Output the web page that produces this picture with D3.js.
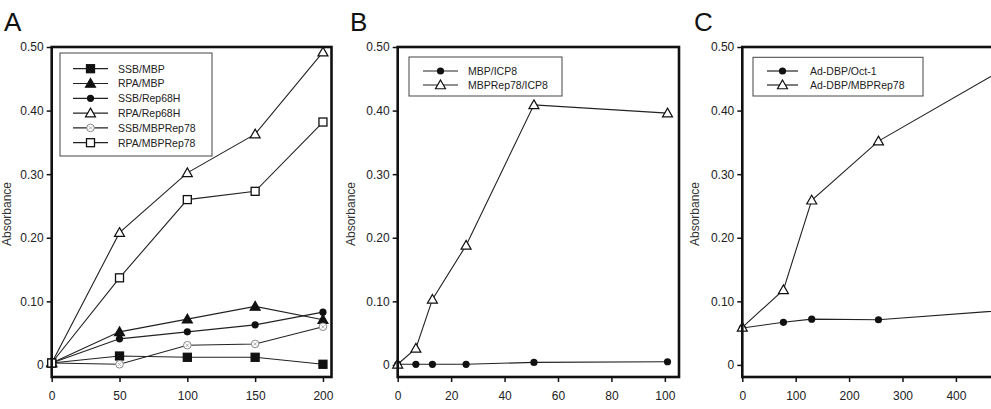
<!DOCTYPE html>
<html>
<head>
<meta charset="utf-8">
<script src="https://cdn.jsdelivr.net/npm/d3@7"></script>
<style>
  body { margin: 0; background: #fff; }
  svg { display: block; font-family: "Liberation Sans", Arial, sans-serif; }
  .tick text { font-size: 12px; fill: #222; }
  .tick line { stroke: #111; stroke-width: 1.5; }
  .legendText { font-size: 10.5px; fill: #222; }
</style>
</head>
<body>
<div id="chart"></div>
<script>
// y axis shared by all three panels
var yTicks = [0, 0.1, 0.2, 0.3, 0.4, 0.5];
var yTickLabels = ["0", "0.10", "0.20", "0.30", "0.40", "0.50"];

// panel A
var aX = [0, 50, 100, 150, 200];
var aXTicks = [0, 50, 100, 150, 200];
var aSsbMbp = [0.003, 0.014, 0.012, 0.012, 0.001];
var aRpaMbp = [0.003, 0.052, 0.072, 0.092, 0.071];
var aSsbRep68H = [0.003, 0.041, 0.052, 0.063, 0.083];
var aRpaRep68H = [0.003, 0.208, 0.302, 0.363, 0.492];
var aSsbMbpRep78 = [0.003, 0.001, 0.031, 0.033, 0.060];
var aRpaMbpRep78 = [0.003, 0.137, 0.260, 0.273, 0.382];

// panel B
var bX = [0, 6.8, 13, 25.6, 51, 101];
var bXTicks = [0, 20, 40, 60, 80, 100];
var bMbpIcp8 = [0.001, 0.001, 0.001, 0.001, 0.004, 0.005];
var bMbpRep78Icp8 = [0.001, 0.026, 0.103, 0.188, 0.409, 0.396];

// panel C
var cX = [0, 77, 130, 255, 510];
var cXTicks = [0, 100, 200, 300, 400];
var cOct1 = [0.058, 0.067, 0.072, 0.071, 0.087];
var cMbpRep78 = [0.059, 0.118, 0.259, 0.352, 0.475];

var width = 991, height = 409;
var svg = d3.select("#chart").append("svg")
    .attr("width", width)
    .attr("height", height);

var y = d3.scaleLinear().domain([-0.019, 0.5]).range([377, 47]);

var panels = [
  {letter: "A", left: 51.7, right: 331.5, xMax: 206.3, xTicks: aXTicks, letterX: 4, titleX: 11,
   legend: {x: 60, y: 53, w: 152, h: 103, rowY: 68.7, rowGap: 14.8, lineX0: 73, lineX1: 108, textX: 118},
   series: [
     {name: "SSB/MBP", x: aX, v: aSsbMbp, marker: "fsquare"},
     {name: "RPA/MBP", x: aX, v: aRpaMbp, marker: "ftri"},
     {name: "SSB/Rep68H", x: aX, v: aSsbRep68H, marker: "fcircle"},
     {name: "RPA/Rep68H", x: aX, v: aRpaRep68H, marker: "otri"},
     {name: "SSB/MBPRep78", x: aX, v: aSsbMbpRep78, marker: "xcircle"},
     {name: "RPA/MBPRep78", x: aX, v: aRpaMbpRep78, marker: "osquare"}
   ]},
  {letter: "B", left: 397.7, right: 679, xMax: 105.3, xTicks: bXTicks, letterX: 350, titleX: 355,
   legend: {x: 409, y: 57, w: 153, h: 39, rowY: 71, rowGap: 14, lineX0: 423, lineX1: 458, textX: 468},
   series: [
     {name: "MBP/ICP8", x: bX, v: bMbpIcp8, marker: "fcircle"},
     {name: "MBPRep78/ICP8", x: bX, v: bMbpRep78Icp8, marker: "otri"}
   ]},
  {letter: "C", left: 742.3, right: 1009.3, xMax: 500, xTicks: cXTicks, letterX: 694, titleX: 699,
   legend: {x: 753, y: 57.3, w: 170, h: 38.7, rowY: 71, rowGap: 14, lineX0: 767, lineX1: 798, textX: 810},
   series: [
     {name: "Ad-DBP/Oct-1", x: cX, v: cOct1, marker: "fcircle"},
     {name: "Ad-DBP/MBPRep78", x: cX, v: cMbpRep78, marker: "otri"}
   ]}
];

function drawMarker(g, kind, cx, cy) {
  if (kind == "fsquare" || kind == "osquare") {
    g.append("rect")
      .attr("x", cx - 4).attr("y", cy - 4)
      .attr("width", 8).attr("height", 8)
      .attr("fill", kind == "fsquare" ? "#111" : "#fff")
      .attr("stroke", "#111").attr("stroke-width", 1.3);
  }
  else if (kind == "ftri" || kind == "otri") {
    var s = 5;
    g.append("path")
      .attr("d", "M" + cx + "," + (cy - s) + "L" + (cx + s) + "," + (cy + s * 0.75) + "L" + (cx - s) + "," + (cy + s * 0.75) + "Z")
      .attr("fill", kind == "ftri" ? "#111" : "#fff")
      .attr("stroke", "#111").attr("stroke-width", 1.2);
  }
  else if (kind == "fcircle") {
    g.append("circle").attr("cx", cx).attr("cy", cy).attr("r", 3.6).attr("fill", "#111");
  }
  else if (kind == "xcircle") {
    g.append("circle").attr("cx", cx).attr("cy", cy).attr("r", 3.8)
      .attr("fill", "#fff").attr("stroke", "#888").attr("stroke-width", 1);
    g.append("path")
      .attr("d", "M" + (cx - 1.6) + "," + (cy - 1.6) + "L" + (cx + 1.6) + "," + (cy + 1.6) +
                 "M" + (cx + 1.6) + "," + (cy - 1.6) + "L" + (cx - 1.6) + "," + (cy + 1.6))
      .attr("stroke", "#999").attr("stroke-width", 0.8);
  }
}

panels.forEach(function(p) {
  var x = d3.scaleLinear().domain([0, p.xMax]).range([p.left, p.right]);
  var g = svg.append("g");

  // panel letter
  g.append("text")
    .attr("x", p.letterX).attr("y", 31)
    .attr("font-size", 26)
    .attr("fill", "#111")
    .text(p.letter);

  // y axis title
  g.append("text")
    .attr("transform", "translate(" + p.titleX + ",214) rotate(-90)")
    .attr("text-anchor", "middle")
    .attr("font-size", 12)
    .attr("fill", "#333")
    .text("Absorbance");

  // axes
  var yAxis = g.append("g")
    .attr("transform", "translate(" + p.left + ",0)")
    .call(d3.axisLeft(y).tickValues(yTicks).tickSize(5).tickPadding(3)
      .tickFormat(function(d, i) { return yTickLabels[i]; }));
  yAxis.select(".domain").remove();

  var xAxis = g.append("g")
    .attr("transform", "translate(0,377)")
    .call(d3.axisBottom(x).tickValues(p.xTicks).tickSize(5).tickPadding(9));
  xAxis.select(".domain").remove();

  // lines and markers
  var line = d3.line()
    .x(function(d) { return x(d[0]); })
    .y(function(d) { return y(d[1]); });

  p.series.forEach(function(s) {
    var pts = s.x.map(function(xv, i) { return [xv, s.v[i]]; });
    g.append("path")
      .datum(pts)
      .attr("d", line)
      .attr("fill", "none")
      .attr("stroke", "#222")
      .attr("stroke-width", 1.1);
  });
  p.series.forEach(function(s) {
    s.x.forEach(function(xv, i) {
      drawMarker(g, s.marker, x(xv), y(s.v[i]));
    });
  });

  // frame
  g.append("rect")
    .attr("x", p.left).attr("y", 47)
    .attr("width", p.right - p.left).attr("height", 377 - 47)
    .attr("fill", "none")
    .attr("stroke", "#111")
    .attr("stroke-width", 2.6);

  // legend
  var L = p.legend;
  var lg = g.append("g");
  lg.append("rect")
    .attr("x", L.x).attr("y", L.y)
    .attr("width", L.w).attr("height", L.h)
    .attr("fill", "#fff")
    .attr("stroke", "#444")
    .attr("stroke-width", 1);
  p.series.forEach(function(s, i) {
    var ry = L.rowY + i * L.rowGap;
    lg.append("line")
      .attr("x1", L.lineX0).attr("x2", L.lineX1)
      .attr("y1", ry).attr("y2", ry)
      .attr("stroke", "#222").attr("stroke-width", 1.2);
    drawMarker(lg, s.marker, (L.lineX0 + L.lineX1) / 2, ry);
    lg.append("text")
      .attr("class", "legendText")
      .attr("x", L.textX).attr("y", ry + 3.8)
      .text(s.name);
  });
});
</script>
</body>
</html>
